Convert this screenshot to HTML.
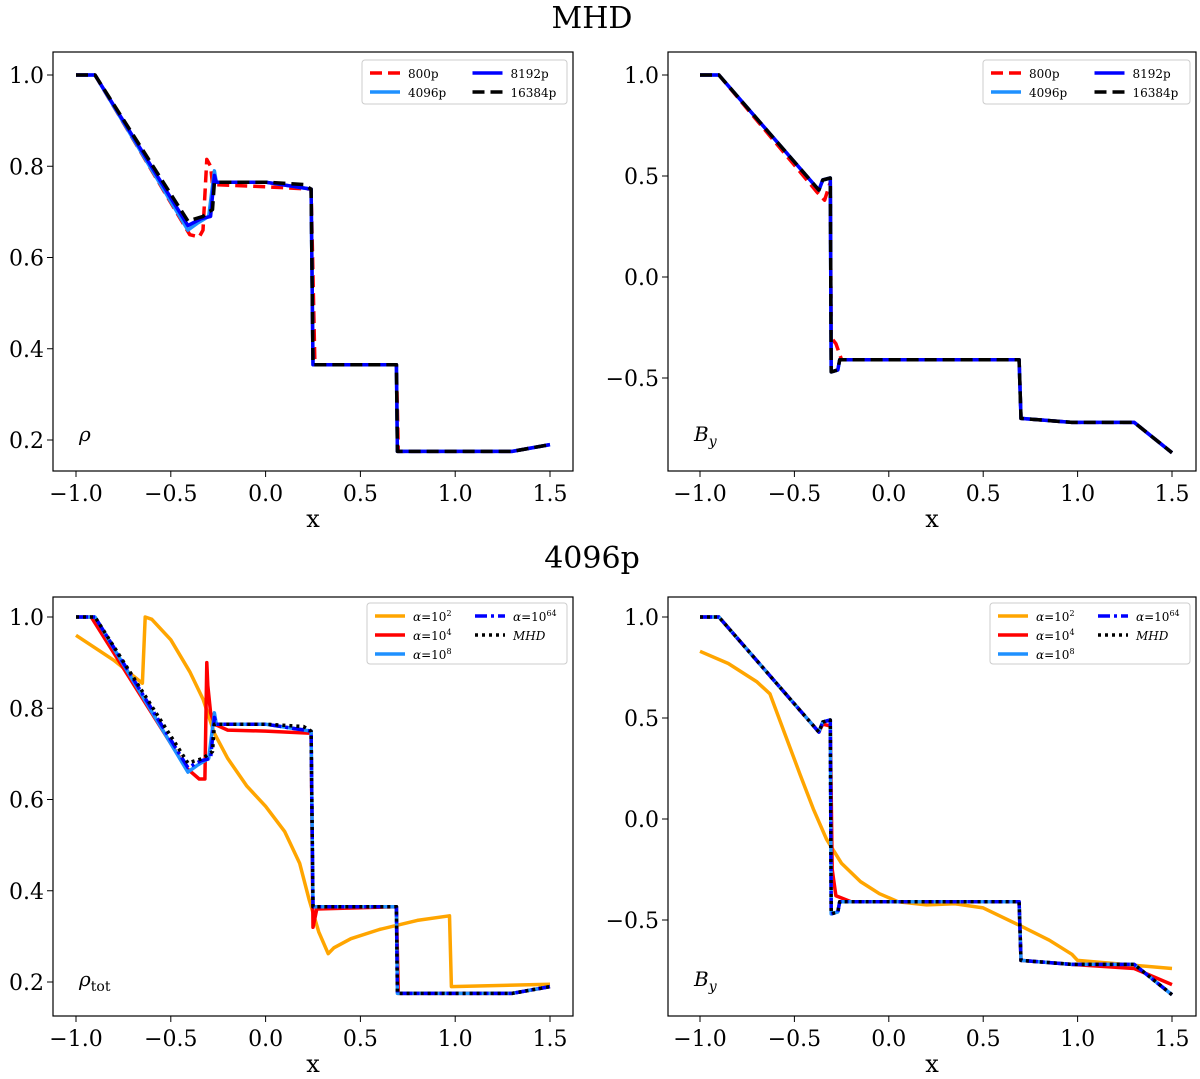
<!DOCTYPE html>
<html><head><meta charset="utf-8"><style>
body{margin:0;background:#fff}
svg text{font-family:"DejaVu Serif","Liberation Serif",serif}
</style></head><body>
<svg id="fig" width="1200" height="1074" xmlns="http://www.w3.org/2000/svg">
<text x="592" y="28" font-size="30" text-anchor="middle">MHD</text>
<text x="592" y="568" font-size="30" text-anchor="middle">4096p</text>
</svg>
<script>
// ---- data ----
const rhoXs = [-1,-0.9,-0.41,-0.33,-0.3,-0.28,-0.27,0.0,0.2,0.24,0.25,0.69,0.695,1.3,1.5];
const rho16384 = [1,1,0.68,0.69,0.70,0.705,0.765,0.765,0.76,0.75,0.365,0.365,0.175,0.175,0.19];
const rho800X = [-1,-0.9,-0.4,-0.35,-0.33,-0.31,-0.29,-0.28,0,0.24,0.26,0.69,0.7,1.3,1.5];
const rho800 = [1,1,0.65,0.645,0.66,0.815,0.8,0.76,0.755,0.75,0.365,0.365,0.175,0.175,0.19];
const rho4096X = [-1,-0.9,-0.41,-0.36,-0.3,-0.27,-0.26,0,0.24,0.25,0.69,0.695,1.3,1.5];
const rho4096 = [1,1,0.66,0.675,0.69,0.79,0.765,0.765,0.75,0.365,0.365,0.175,0.175,0.19];
const rho8192X = [-1,-0.9,-0.41,-0.34,-0.29,-0.27,-0.26,0,0.24,0.25,0.69,0.695,1.3,1.5];
const rho8192 = [1,1,0.67,0.685,0.69,0.78,0.765,0.765,0.75,0.365,0.365,0.175,0.175,0.19];
const byXs = [-1,-0.9,-0.37,-0.35,-0.31,-0.305,-0.27,-0.26,0.69,0.7,0.97,1.3,1.5];
const by16384 = [1,1,0.43,0.48,0.49,-0.47,-0.46,-0.41,-0.41,-0.7,-0.72,-0.72,-0.87];
const by800X = [-1,-0.9,-0.38,-0.34,-0.31,-0.305,-0.28,-0.25,0.69,0.7,0.97,1.3,1.5];
const by800 = [1,1,0.42,0.38,0.47,-0.3,-0.33,-0.41,-0.41,-0.7,-0.72,-0.72,-0.87];
const orRhoX = [-1,-0.8,-0.65,-0.635,-0.6,-0.5,-0.4,-0.33,-0.27,-0.2,-0.1,0,0.1,0.18,0.23,0.28,0.33,0.36,0.45,0.6,0.8,0.97,0.98,1.5];
const orRho = [0.96,0.905,0.855,1.0,0.995,0.95,0.88,0.82,0.745,0.69,0.63,0.585,0.53,0.46,0.38,0.31,0.262,0.275,0.295,0.315,0.335,0.345,0.19,0.195];
const redRhoX = [-1,-0.92,-0.42,-0.35,-0.32,-0.31,-0.305,-0.29,-0.27,-0.2,0,0.24,0.25,0.27,0.69,0.7,1.3,1.5];
const redRho = [1,1,0.67,0.645,0.645,0.9,0.85,0.79,0.765,0.752,0.75,0.745,0.32,0.36,0.365,0.175,0.175,0.19];
const orByX = [-1,-0.85,-0.7,-0.63,-0.55,-0.47,-0.4,-0.33,-0.25,-0.15,-0.05,0.05,0.2,0.35,0.5,0.7,0.85,0.97,1.0,1.5];
const orBy = [0.83,0.77,0.68,0.62,0.42,0.22,0.05,-0.1,-0.22,-0.31,-0.37,-0.41,-0.425,-0.42,-0.44,-0.53,-0.6,-0.67,-0.7,-0.74];
const redByX = [-1,-0.9,-0.37,-0.35,-0.31,-0.3,-0.28,-0.2,0.69,0.7,0.97,1.3,1.5];
const redBy = [1,1,0.43,0.47,0.46,-0.25,-0.38,-0.41,-0.41,-0.7,-0.72,-0.74,-0.82];
const xTicks = [-1.0,-0.5,0.0,0.5,1.0,1.5];
const rhoTicks = [0.2,0.4,0.6,0.8,1.0];
const byTicks = [-0.5,0.0,0.5,1.0];

const NS="http://www.w3.org/2000/svg";
const svg=document.getElementById('fig');
function mk(tag,attrs,parent){const e=document.createElementNS(NS,tag);for(const k in attrs)e.setAttribute(k,attrs[k]);(parent||svg).appendChild(e);return e;}

function panel(o){
  const g=mk('g',{});
  
  
  const sx=v=>o.x0+(v+1)/2.5*(o.x1-o.x0);
  const sy=v=>o.yb+(v-o.vb)/(o.vt-o.vb)*(o.yt-o.yb);
  o.series.forEach(s=>{
    const p=mk('path',{d:s.x.map((v,i)=>(i?'L':'M')+sx(v).toFixed(1)+','+sy(s.y[i]).toFixed(1)).join(''),fill:'none',stroke:s.c,'stroke-width':s.w||3.5,'stroke-dasharray':s.d||'','stroke-linejoin':'round'},g);
    
    
  });
  const fr=mk('rect',{x:o.L,y:o.T,width:o.R-o.L,height:o.B-o.T,fill:'none',stroke:'#000','stroke-width':1.2},g);
  
  
  xTicks.forEach(t=>{
    mk('line',{x1:sx(t),x2:sx(t),y1:o.B,y2:o.B+6,stroke:'#000'},g);
    const tx=mk('text',{x:sx(t),y:o.B+30,'font-size':22,'text-anchor':'middle'},g);
    tx.textContent=t.toFixed(1).replace('-','\u2212');
    
    
  });
  o.yticks.forEach(t=>{
    mk('line',{x1:o.L-6,x2:o.L,y1:sy(t),y2:sy(t),stroke:'#000'},g);
    const tx=mk('text',{x:o.L-9,y:sy(t)+8,'font-size':22,'text-anchor':'end'},g);
    tx.textContent=t.toFixed(1).replace('-','\u2212');
    
    
  });
  const xl=mk('text',{x:(o.L+o.R)/2,y:o.B+56,'font-size':24,'text-anchor':'middle'},g);
  xl.textContent='x';
  
  
  const vl=mk('text',{x:o.L+26,y:o.B-30,'font-size':20,'font-style':'italic'},g);
  vl.innerHTML=o.var;
  
  
  const lx=o.lg[0],ly=o.lg[1],lw=o.lg[2],lh=o.lg[3];
  const lr=mk('rect',{x:lx,y:ly,width:lw,height:lh,fill:'#fff',stroke:'#ccc',rx:3},g);
  
  
  o.series.forEach((s,i)=>{
    const col=i<o.lcol?0:1,row=i<o.lcol?i:i-o.lcol;
    const ex=lx+8+col*lw/2,ey=ly+13+row*19;
    mk('line',{x1:ex,x2:ex+30,y1:ey,y2:ey,stroke:s.c,'stroke-width':3.5,'stroke-dasharray':s.d||''},g);
    const t=mk('text',{x:ex+38,y:ey+5,'font-size':12},g);
    t.innerHTML=s.label;
    
    
  });
}
const sup=e=>'<tspan font-style="italic">α</tspan>=10<tspan font-size="8" dy="-5">'+e+'</tspan>';
panel({name:'panel-rho-mhd',L:53,R:573,T:52,B:471,x0:76,x1:550,yb:440,vb:0.2,yt:75,vt:1.0,yticks:rhoTicks,var:'ρ',lg:[362,60,205,44],lcol:2,
 series:[{x:rho800X,y:rho800,c:'#ff0000',d:'12,6',label:'800p'},{x:rho4096X,y:rho4096,c:'#1e90ff',label:'4096p'},{x:rho8192X,y:rho8192,c:'#0000ff',label:'8192p'},{x:rhoXs,y:rho16384,c:'#000',d:'12,6',label:'16384p'}]});
panel({name:'panel-by-mhd',L:668,R:1196,T:52,B:471,x0:700,x1:1172,yb:378,vb:-0.5,yt:75,vt:1.0,yticks:byTicks,var:'B<tspan font-size="14" dy="5">y</tspan>',lg:[983,60,207,44],lcol:2,
 series:[{x:by800X,y:by800,c:'#ff0000',d:'12,6',label:'800p'},{x:byXs,y:by16384,c:'#1e90ff',label:'4096p'},{x:byXs,y:by16384,c:'#0000ff',label:'8192p'},{x:byXs,y:by16384,c:'#000',d:'12,6',label:'16384p'}]});
panel({name:'panel-rhotot-4096p',L:53,R:573,T:597,B:1016,x0:76,x1:550,yb:982,vb:0.2,yt:617,vt:1.0,yticks:rhoTicks,var:'ρ<tspan font-size="14" font-style="normal" dy="5">tot</tspan>',lg:[367,603,200,61],lcol:3,
 series:[{x:orRhoX,y:orRho,c:'#ffa500',label:sup(2)},{x:redRhoX,y:redRho,c:'#ff0000',label:sup(4)},{x:rho4096X,y:rho4096,c:'#1e90ff',label:sup(8)},{x:rho8192X,y:rho8192,c:'#0000ff',d:'12,4,3,4',label:sup(64)},{x:rhoXs,y:rho16384,c:'#000',d:'3,4',label:'<tspan font-style="italic">MHD</tspan>'}]});
panel({name:'panel-by-4096p',L:668,R:1196,T:597,B:1016,x0:700,x1:1172,yb:920,vb:-0.5,yt:617,vt:1.0,yticks:byTicks,var:'B<tspan font-size="14" dy="5">y</tspan>',lg:[990,603,200,61],lcol:3,
 series:[{x:orByX,y:orBy,c:'#ffa500',label:sup(2)},{x:redByX,y:redBy,c:'#ff0000',label:sup(4)},{x:byXs,y:by16384,c:'#1e90ff',label:sup(8)},{x:byXs,y:by16384,c:'#0000ff',d:'12,4,3,4',label:sup(64)},{x:byXs,y:by16384,c:'#000',d:'3,4',label:'<tspan font-style="italic">MHD</tspan>'}]});
</script>
</body></html>
